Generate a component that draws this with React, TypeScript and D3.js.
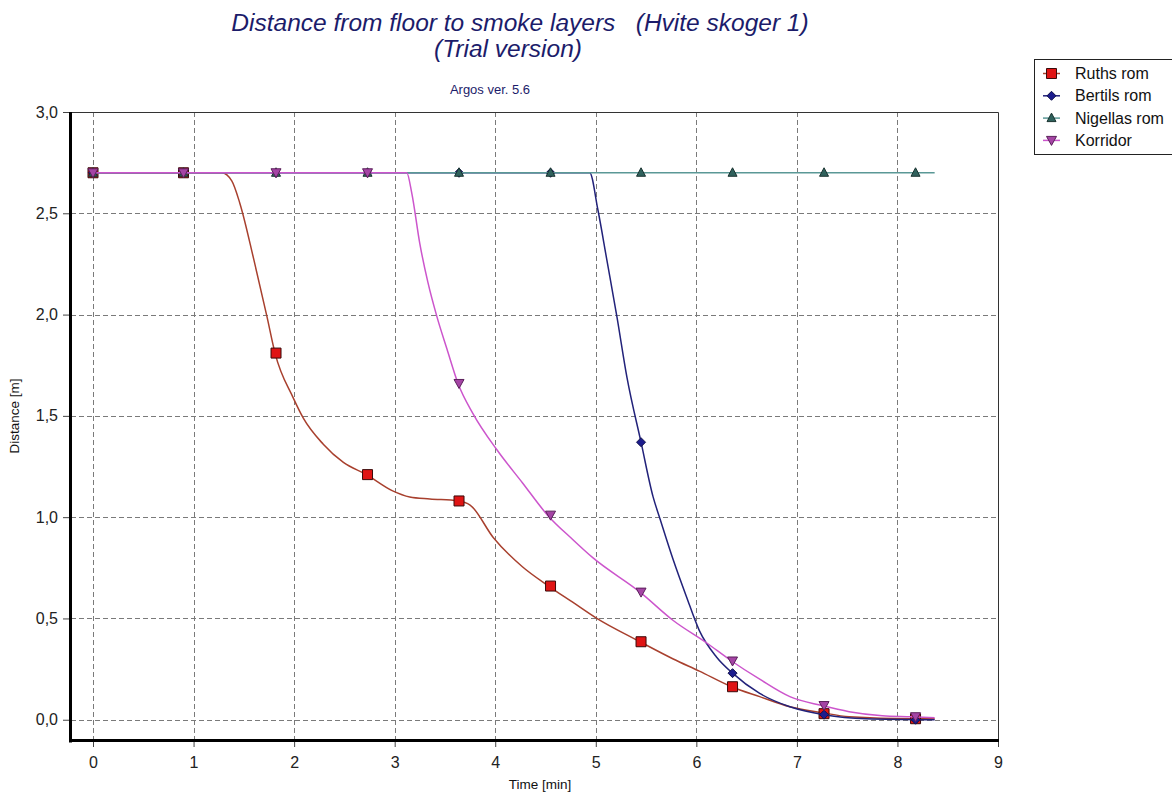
import React, { useEffect, useRef } from 'react';
import * as d3 from 'd3';

// times where the markers sit (min)
const markerTimes = [0, 0.9, 1.82, 2.73, 3.64, 4.55, 5.45, 6.36, 7.27, 8.18];

const ruthsMarkers = [2.7, 2.7, 1.81, 1.21, 1.08, 0.66, 0.385, 0.163, 0.03, 0.005];
const bertilsMarkers = [2.7, 2.7, 2.7, 2.7, 2.7, 2.7, 1.37, 0.23, 0.025, 0.0];
const nigellasMarkers = [2.7, 2.7, 2.7, 2.7, 2.7, 2.7, 2.7, 2.7, 2.7, 2.7];
const korridorMarkers = [2.7, 2.7, 2.7, 2.7, 1.66, 1.01, 0.63, 0.29, 0.07, 0.015];

// line samples [time, distance]
const ruthsLine: [number, number][] = [
  [0, 2.7], [1.28, 2.7], [1.38, 2.66], [1.46, 2.55], [1.6, 2.27], [1.73, 1.99], [1.81, 1.81],
  [1.99, 1.59], [2.09, 1.49], [2.29, 1.36], [2.49, 1.27], [2.72, 1.21], [2.98, 1.13], [3.15, 1.1],
  [3.35, 1.09], [3.63, 1.08], [3.75, 1.06], [3.98, 0.9], [4.27, 0.755], [4.53, 0.66], [4.77, 0.58],
  [5.01, 0.5], [5.44, 0.385], [5.77, 0.3], [6.03, 0.24], [6.35, 0.163], [6.63, 0.114], [6.93, 0.064],
  [7.25, 0.035], [7.52, 0.015], [8.14, 0.005], [8.37, 0.005],
];
const bertilsLine: [number, number][] = [
  [0, 2.7], [4.94, 2.7], [5.02, 2.52], [5.11, 2.27], [5.21, 1.99], [5.31, 1.69], [5.45, 1.37],
  [5.57, 1.1], [5.64, 0.99], [5.77, 0.79], [5.9, 0.61], [6.03, 0.44], [6.2, 0.31], [6.36, 0.23],
  [6.63, 0.13], [6.93, 0.064], [7.27, 0.025], [7.69, 0.005], [8.37, 0.0],
];
const nigellasLine: [number, number][] = [[0, 2.7], [8.37, 2.7]];
const korridorLine: [number, number][] = [
  [0, 2.7], [3.12, 2.7], [3.17, 2.6], [3.25, 2.35], [3.33, 2.16], [3.42, 1.99], [3.52, 1.83],
  [3.63, 1.66], [3.78, 1.51], [4.02, 1.33], [4.27, 1.17], [4.52, 1.01], [4.77, 0.89], [4.97, 0.8],
  [5.44, 0.63], [5.77, 0.49], [6.1, 0.38], [6.35, 0.29], [6.63, 0.2], [6.93, 0.114], [7.25, 0.07],
  [7.52, 0.04], [7.85, 0.02], [8.14, 0.015], [8.37, 0.01],
];

const seriesNames = ['Ruths rom', 'Bertils rom', 'Nigellas rom', 'Korridor'];
const xTicks = [0, 1, 2, 3, 4, 5, 6, 7, 8, 9];
const yTicks = [0, 0.5, 1, 1.5, 2, 2.5, 3];

const FONT = "Arial, 'Liberation Sans', sans-serif";

const App = () => {
  const svgRef = useRef<SVGSVGElement>(null);
  const width = 1172;
  const height = 794;

  useEffect(() => {
    const svg = d3.select(svgRef.current);
    svg.selectAll('*').remove();

    const x = d3.scaleLinear().domain([-0.2, 9]).range([72.9, 998]);
    const y = d3.scaleLinear().domain([-0.1, 3.0]).range([740, 112]);
    const [x0, x1] = [71, 999];
    const [y0, y1] = [740, 112];

    const series = [
      { name: seriesNames[0], line: ruthsLine, marks: ruthsMarkers, stroke: '#a8402e', fill: '#e01414', mstroke: '#3a0a0a', shape: 'square' },
      { name: seriesNames[1], line: bertilsLine, marks: bertilsMarkers, stroke: '#22227a', fill: '#1c1c8e', mstroke: '#10104a', shape: 'diamond' },
      { name: seriesNames[2], line: nigellasLine, marks: nigellasMarkers, stroke: '#5a9896', fill: '#2f615c', mstroke: '#1a3330', shape: 'triangle' },
      { name: seriesNames[3], line: korridorLine, marks: korridorMarkers, stroke: '#cc55cc', fill: '#a544a5', mstroke: '#5a205a', shape: 'tri-down' },
    ];

    // titles
    const titleColor = '#1c1c6a';
    svg.append('text')
      .attr('x', 520).attr('y', 31)
      .attr('text-anchor', 'middle')
      .style('font-family', FONT).style('font-size', '24.5px').style('font-style', 'italic')
      .style('fill', titleColor)
      .attr('xml:space', 'preserve')
      .text('Distance from floor to smoke layers   (Hvite skoger 1)');
    svg.append('text')
      .attr('x', 508).attr('y', 57)
      .attr('text-anchor', 'middle')
      .style('font-family', FONT).style('font-size', '24.5px').style('font-style', 'italic')
      .style('fill', titleColor)
      .text('(Trial version)');
    svg.append('text')
      .attr('x', 490).attr('y', 94)
      .attr('text-anchor', 'middle')
      .style('font-family', FONT).style('font-size', '13px')
      .style('fill', titleColor)
      .text('Argos ver. 5.6');

    // grid
    const grid = svg.append('g').attr('stroke', '#7a7a7a').attr('stroke-width', 1).attr('stroke-dasharray', '5,3');
    xTicks.filter(t => t < 9).forEach(t => {
      grid.append('line').attr('x1', Math.round(x(t)) + 0.5).attr('x2', Math.round(x(t)) + 0.5).attr('y1', y1).attr('y2', y0);
    });
    yTicks.filter(t => t < 3).forEach(t => {
      grid.append('line').attr('x1', x0).attr('x2', x1).attr('y1', Math.round(y(t)) + 0.5).attr('y2', Math.round(y(t)) + 0.5);
    });

    // frame top/right
    svg.append('path')
      .attr('d', `M${x0},${y1 + 0.5}H${x1 - 0.5}V${y0}`)
      .attr('fill', 'none').attr('stroke', '#333').attr('stroke-width', 1);

    // axes
    const fmt = (d: d3.NumberValue) => d3.format('.1f')(+d).replace('.', ',');
    const yAxis = d3.axisLeft(y).tickValues(yTicks).tickFormat(fmt).tickSize(7).tickPadding(5);
    const yMinor = d3.axisLeft(y).tickValues(d3.range(0, 31).map(i => i / 10)).tickFormat(() => '').tickSize(4);
    const xAxis = d3.axisBottom(x).tickValues(xTicks).tickFormat(d3.format('d')).tickSize(6).tickPadding(10);
    const xMinor = d3.axisBottom(x).tickValues(d3.range(-1, 46).map(i => i / 5)).tickFormat(() => '').tickSize(4);

    const gy = svg.append('g').attr('transform', `translate(${x0 - 1},0)`);
    gy.call(yMinor);
    gy.call(yAxis);
    const gx = svg.append('g').attr('transform', `translate(0,${y0 + 1})`);
    gx.call(xMinor);
    gx.call(xAxis);
    svg.selectAll('.domain').remove();
    svg.selectAll('.tick line').attr('stroke', '#444');
    svg.selectAll('.tick text')
      .style('font-family', FONT).style('font-size', '16px').style('fill', '#222');

    svg.append('line').attr('x1', x0 - 0.5).attr('x2', x0 - 0.5).attr('y1', y1).attr('y2', y0 + 2.5)
      .attr('stroke', '#000').attr('stroke-width', 3);
    svg.append('line').attr('x1', x0 - 2).attr('x2', x1).attr('y1', y0 + 0.5).attr('y2', y0 + 0.5)
      .attr('stroke', '#000').attr('stroke-width', 3);

    // axis titles
    svg.append('text')
      .attr('x', 540).attr('y', 789)
      .attr('text-anchor', 'middle')
      .style('font-family', FONT).style('font-size', '13.5px').style('fill', '#111')
      .text('Time [min]');
    svg.append('text')
      .attr('transform', 'translate(19,416) rotate(-90)')
      .attr('text-anchor', 'middle')
      .style('font-family', FONT).style('font-size', '13.5px').style('fill', '#111')
      .text('Distance [m]');

    const markerPath = (shape: string) => {
      if (shape === 'square') return 'M-5,-5H5V5H-5Z';
      if (shape === 'diamond') return 'M0,-4.5L4.5,0L0,4.5L-4.5,0Z';
      if (shape === 'triangle') return 'M0,-5L4.5,3.5H-4.5Z';
      return 'M-5,-4H5L0,5Z';
    };

    const line = d3.line<[number, number]>()
      .x(d => x(d[0]))
      .y(d => y(d[1]))
      .curve(d3.curveMonotoneX);

    const plot = svg.append('g');
    series.forEach(s => {
      plot.append('path')
        .datum(s.line)
        .attr('fill', 'none')
        .attr('stroke', s.stroke)
        .attr('stroke-width', 1.5)
        .attr('d', line);
      plot.selectAll(null)
        .data(s.marks.map((v, i) => [markerTimes[i], v]))
        .enter()
        .append('path')
        .attr('transform', d => `translate(${x(d[0])},${y(d[1])})`)
        .attr('d', markerPath(s.shape))
        .attr('fill', s.fill)
        .attr('stroke', s.mstroke)
        .attr('stroke-width', 1);
    });

    // legend
    const lg = svg.append('g');
    lg.append('rect')
      .attr('x', 1034.5).attr('y', 59.5).attr('width', 150).attr('height', 95)
      .attr('fill', '#fff').attr('stroke', '#222').attr('stroke-width', 1);
    series.forEach((s, i) => {
      const ly = 73.5 + i * 22.3;
      lg.append('line').attr('x1', 1043).attr('x2', 1060).attr('y1', ly).attr('y2', ly)
        .attr('stroke', s.stroke).attr('stroke-width', 1.5);
      lg.append('path')
        .attr('transform', `translate(1051.5,${ly})`)
        .attr('d', markerPath(s.shape))
        .attr('fill', s.fill).attr('stroke', s.mstroke).attr('stroke-width', 1);
      lg.append('text')
        .attr('x', 1075).attr('y', ly + 5.5)
        .style('font-family', FONT).style('font-size', '16px').style('fill', '#111')
        .text(s.name);
    });
  }, []);

  return (
    <svg ref={svgRef} width={width} height={height}
      style={{ position: 'absolute', left: 0, top: 0, background: '#fff' }} />
  );
};

export default App;
